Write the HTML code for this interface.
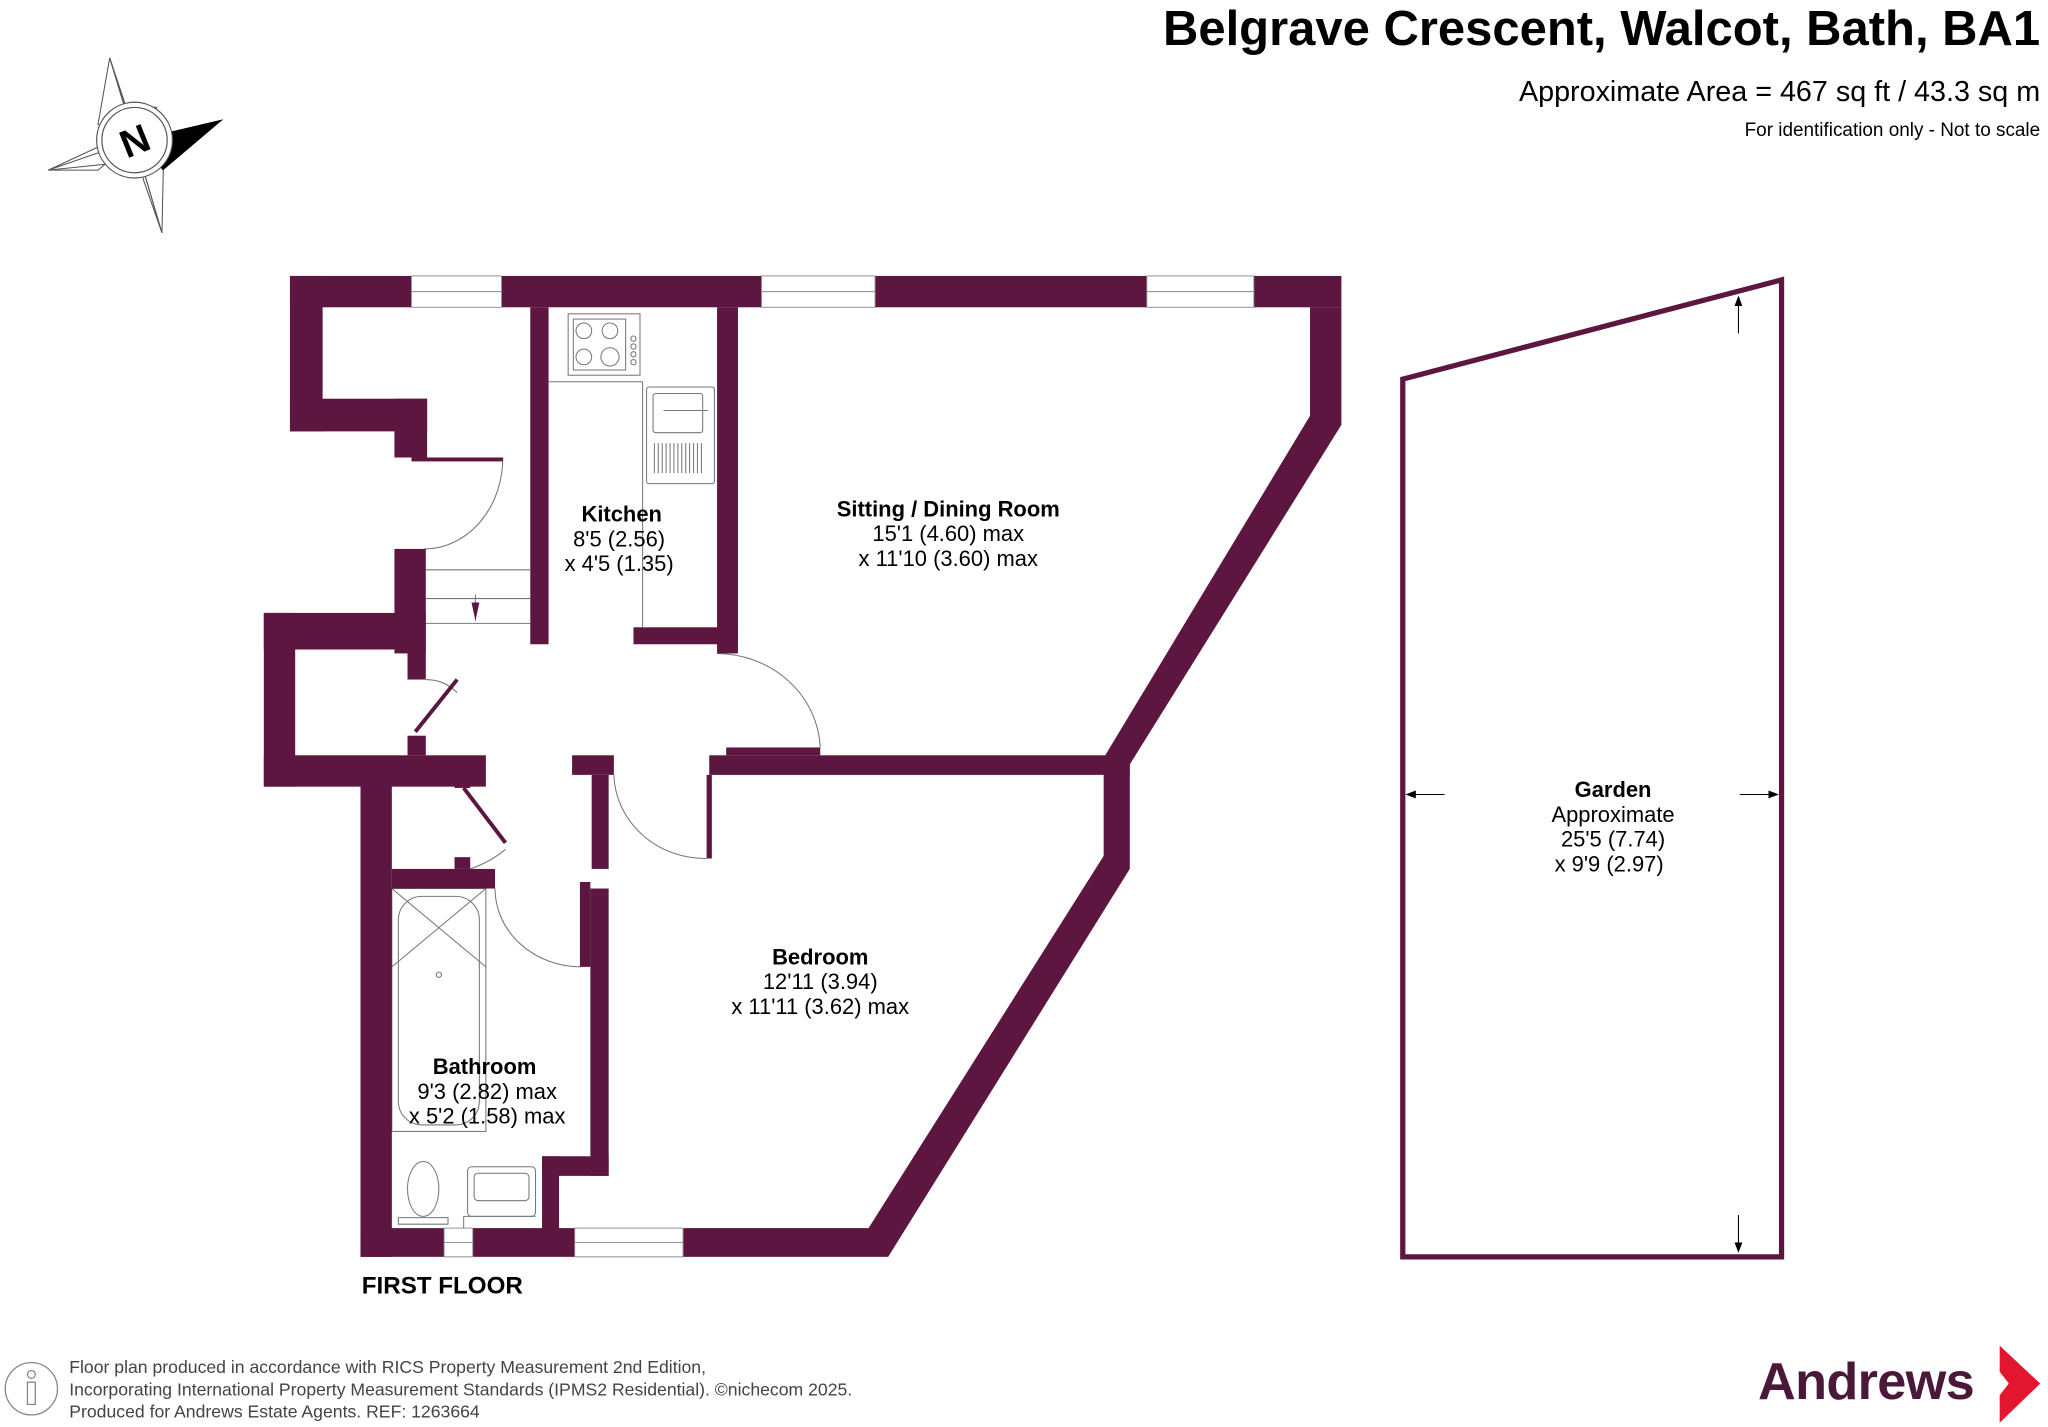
<!DOCTYPE html>
<html><head><meta charset="utf-8"><style>
html,body{margin:0;padding:0;background:#fff}
svg{display:block}
text{font-family:"Liberation Sans",sans-serif}
</style></head><body>
<svg width="2048" height="1427" viewBox="0 0 1568 1092" xmlns="http://www.w3.org/2000/svg">
<rect width="1568" height="1092" fill="#fff"/>
<!-- compass -->
<g stroke="#555" stroke-width="0.8" fill="none">
<polygon points="84,44 95,80 120,82 105,107 84,44" fill="#fff"/>
<polygon points="84,44 75,95 103,107"/>
<polygon points="37,130 80,110 103,107 85,125 37,130"/>
<polygon points="37,130 75,130 103,107"/>
<polygon points="124,178 103,107 125,130 124,178"/>
<polygon points="124,178 110,138 103,107"/>
</g>
<polygon points="103,107 171,91 125,130" fill="#000"/>
<circle cx="103" cy="107" r="29" fill="#fff" stroke="#555" stroke-width="0.9"/>
<circle cx="103" cy="107" r="25" fill="#fff" stroke="#555" stroke-width="0.9"/>
<text x="103" y="118" font-size="30" font-weight="bold" text-anchor="middle" transform="rotate(-22 103 107)">N</text>

<!-- titles -->
<text x="1562" y="34" font-size="37.5" font-weight="bold" text-anchor="end">Belgrave Crescent, Walcot, Bath, BA1</text>
<text x="1562" y="77" font-size="22" text-anchor="end">Approximate Area = 467 sq ft / 43.3 sq m</text>
<text x="1562" y="104" font-size="14.5" text-anchor="end">For identification only - Not to scale</text>

<!-- fixtures -->
<g stroke="#777" stroke-width="0.8" fill="none">
<line x1="420" y1="292" x2="492" y2="292"/><line x1="492" y1="292" x2="492" y2="480"/>
<rect x="435" y="240" width="55" height="47"/><rect x="439" y="244" width="40" height="39"/>
<circle cx="447" cy="253" r="6"/><circle cx="467" cy="253" r="6"/><circle cx="447" cy="273" r="6"/><circle cx="467" cy="273" r="7"/>
<circle cx="485" cy="259" r="2"/><circle cx="485" cy="265" r="2"/><circle cx="485" cy="271" r="2"/><circle cx="485" cy="277" r="2"/>
<rect x="495" y="296" width="52" height="74" rx="2"/><rect x="500" y="301" width="38" height="30" rx="2"/>
<line x1="508" y1="314" x2="542" y2="314"/>
<path d="M501 339v23M504 339v23M507 339v23M510 339v23M513 339v23M516 339v23M519 339v23M522 339v23M525 339v23M528 339v23M531 339v23M534 339v23M537 339v23"/>
<line x1="326" y1="458" x2="406" y2="458"/><line x1="326" y1="436" x2="406" y2="436"/><line x1="326" y1="477" x2="406" y2="477"/>
<line x1="364" y1="455" x2="364" y2="475"/>
<rect x="300" y="680" width="72" height="186"/>
<rect x="305" y="686" width="62" height="175" rx="18"/>
<line x1="300" y1="680" x2="372" y2="740"/><line x1="372" y1="680" x2="300" y2="740"/>
<circle cx="336" cy="746" r="2"/>
<ellipse cx="324" cy="910" rx="12" ry="21"/><path d="M305 937h38v-5h-38z"/>
<rect x="358" y="893" width="52" height="38" rx="3"/><rect x="363" y="898" width="42" height="21" rx="3"/>
<line x1="355" y1="931" x2="410" y2="931"/><line x1="355" y1="931" x2="355" y2="940"/>
<path d="M325 420 A60 70 0 0 0 385 350"/>
<path d="M326 520 Q340 520 350 530"/>
<path d="M360 665 Q375 660 387 650"/>
<path d="M549 500 A80 75 0 0 1 628 572"/>
<path d="M470 593 A70 66 0 0 0 541 657"/>
<path d="M379 680 A66 60 0 0 0 445 740"/>
</g>
<g stroke="#5b1640" stroke-width="3">
<line x1="318" y1="560" x2="350" y2="520"/>
<line x1="355" y1="603" x2="387" y2="645"/>
</g>
<polygon points="361,461 367,461 364,475" fill="#5b1640"/>

<!-- walls -->
<g fill="#5c1640">
<rect x="222" y="211" width="805" height="24"/>
<rect x="222" y="211" width="25" height="119"/>
<rect x="222" y="305" width="105" height="25"/>
<rect x="302" y="305" width="25" height="45"/>
<rect x="315" y="350" width="70" height="3"/>
<rect x="302" y="420" width="24" height="80"/>
<rect x="202" y="469" width="124" height="28"/>
<rect x="202" y="469" width="24" height="133"/>
<rect x="202" y="578" width="170" height="24"/>
<rect x="312" y="497" width="14" height="23"/>
<rect x="312" y="563" width="14" height="15"/>
<rect x="406" y="235" width="14" height="258"/>
<rect x="549" y="235" width="16" height="265"/>
<rect x="485" y="480" width="80" height="13"/>
<polygon points="1003,235 1027,235 1027,325 865,585 845,580 1003,318"/>
<rect x="543" y="578" width="322" height="15"/>
<rect x="556" y="572" width="72" height="6"/>
<polygon points="845,585 865,585 865,665 680,962 665,940 845,655"/>
<rect x="523" y="940" width="157" height="22"/>
<rect x="276" y="593" width="24" height="369"/>
<rect x="276" y="940" width="64" height="22"/>
<rect x="362" y="940" width="78" height="22"/>
<rect x="415" y="885" width="51" height="15"/>
<rect x="415" y="885" width="13" height="60"/>
<rect x="300" y="665" width="79" height="15"/>
<rect x="348" y="593" width="12" height="10"/>
<rect x="348" y="656" width="12" height="9"/>
<rect x="438" y="578" width="32" height="15"/>
<rect x="453" y="593" width="13" height="72"/>
<rect x="444" y="675" width="8" height="65"/>
<rect x="452" y="680" width="14" height="220"/>
<rect x="541" y="593" width="4" height="64"/>
</g>
<!-- windows -->
<g fill="#fff" stroke="#888" stroke-width="0.7">
<rect x="315" y="211" width="69" height="24"/><line x1="315" y1="223" x2="384" y2="223"/>
<rect x="583" y="211" width="87" height="24"/><line x1="583" y1="223" x2="670" y2="223"/>
<rect x="878" y="211" width="82" height="24"/><line x1="878" y1="223" x2="960" y2="223"/>
<rect x="440" y="940" width="83" height="22"/><line x1="440" y1="951" x2="523" y2="951"/>
<rect x="340" y="940" width="22" height="22"/><line x1="340" y1="951" x2="362" y2="951"/>
</g>

<!-- garden -->
<polygon points="1074,290 1364,214 1364,962 1074,962" fill="none" stroke="#5c1640" stroke-width="4"/>
<g stroke="#000" stroke-width="0.8">
<line x1="1331" y1="228" x2="1331" y2="255"/><line x1="1331" y1="930" x2="1331" y2="957"/>
<line x1="1078" y1="608" x2="1106" y2="608"/><line x1="1332" y1="608" x2="1360" y2="608"/>
</g>
<g fill="#000">
<polygon points="1331,226 1328,234 1334,234"/><polygon points="1331,959 1328,951 1334,951"/>
<polygon points="1076,608 1084,605 1084,611"/><polygon points="1362,608 1354,605 1354,611"/>
</g>

<!-- labels -->
<g font-size="16.8" text-anchor="middle">
<text x="476" y="399" font-weight="bold">Kitchen</text>
<text x="474" y="418">8'5 (2.56)</text>
<text x="474" y="437">x 4'5 (1.35)</text>
<text x="726" y="395" font-weight="bold">Sitting / Dining Room</text>
<text x="726" y="414">15'1 (4.60) max</text>
<text x="726" y="433">x 11'10 (3.60) max</text>
<text x="628" y="738" font-weight="bold">Bedroom</text>
<text x="628" y="757">12'11 (3.94)</text>
<text x="628" y="776">x 11'11 (3.62) max</text>
<text x="371" y="822" font-weight="bold">Bathroom</text>
<text x="373" y="841">9'3 (2.82) max</text>
<text x="373" y="860">x 5'2 (1.58) max</text>
<text x="1235" y="610" font-weight="bold">Garden</text>
<text x="1235" y="629">Approximate</text>
<text x="1235" y="648">25'5 (7.74)</text>
<text x="1232" y="667">x 9'9 (2.97)</text>
</g>
<text x="277" y="990" font-size="18.5" font-weight="bold">FIRST FLOOR</text>

<!-- footer -->
<circle cx="24" cy="1063" r="20" fill="none" stroke="#888" stroke-width="1"/>
<circle cx="24" cy="1052" r="3" fill="none" stroke="#888"/>
<rect x="21" y="1058" width="6" height="17" fill="none" stroke="#888"/>
<g font-size="13.5" fill="#444">
<text x="53" y="1051">Floor plan produced in accordance with RICS Property Measurement 2nd Edition,</text>
<text x="53" y="1068">Incorporating International Property Measurement Standards (IPMS2 Residential).   ©nichecom 2025.</text>
<text x="53" y="1085">Produced for Andrews Estate Agents.   REF: 1263664</text>
</g>
<text x="1346" y="1071" font-size="40" font-weight="bold" fill="#4a1838" letter-spacing="-0.5">Andrews</text>
<polygon points="1531,1030 1562,1059 1531,1089 1531,1068 1538,1059 1531,1050" fill="#e2162e"/>
</svg>
</body></html>
